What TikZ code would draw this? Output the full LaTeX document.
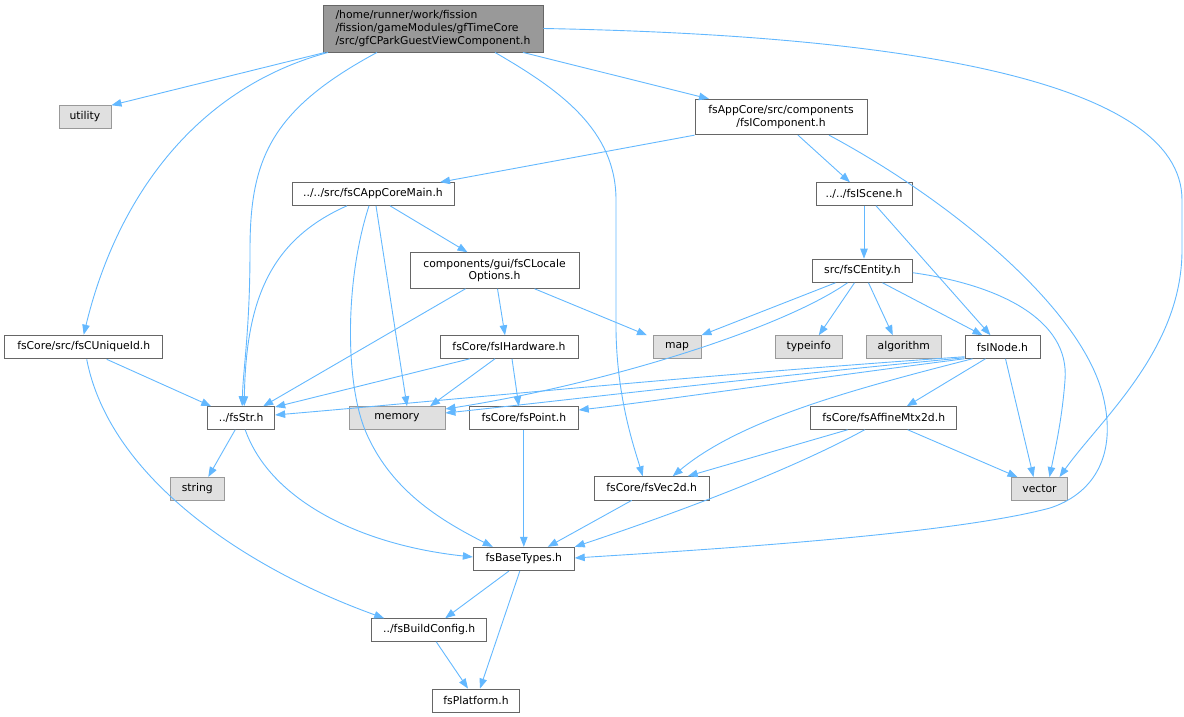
\documentclass[tikz,border=0pt]{standalone}
\usepackage{fontspec}
\setmainfont{DejaVu Sans}
\usetikzlibrary{arrows.meta}
\definecolor{edgec}{HTML}{63B8FF}
\definecolor{bordc}{HTML}{666666}
\definecolor{sysfill}{HTML}{E0E0E0}
\definecolor{sysbord}{HTML}{999999}
\definecolor{mainfill}{HTML}{999999}
\tikzset{
  box/.style={draw=bordc, fill=white, line width=0.9pt, inner sep=0pt, align=center,
    font=\fontsize{10.8}{12.8}\selectfont},
  sysbox/.style={box, draw=sysbord, fill=sysfill},
  mainbox/.style={box, fill=mainfill, align=left},
  edge/.style={draw=edgec, line width=0.9pt, -{Triangle[length=10pt,width=7.5pt]}},
}
\begin{document}
\begin{tikzpicture}[x=1pt,y=-1pt]
\useasboundingbox (0,0) rectangle (1184,717);
% nodes
\node[mainbox, minimum width=220, minimum height=47] (main) at (433,28.5) {/home/runner/work/fission\\/fission/gameModules/gfTimeCore\\/src/gfCParkGuestViewComponent.h};
\node[sysbox, minimum width=52, minimum height=22.6] (utility) at (85,117) {utility};
\node[box, minimum width=172, minimum height=35.4] (comp) at (781,117) {fsAppCore/src/components\\/fsIComponent.h};
\node[box, minimum width=162, minimum height=22.7] (appmain) at (373,194) {../../src/fsCAppCoreMain.h};
\node[box, minimum width=96, minimum height=22.6] (scene) at (864,194) {../../fsIScene.h};
\node[box, minimum width=169, minimum height=35.6] (locale) at (494.5,270.5) {components/gui/fsCLocale\\Options.h};
\node[box, minimum width=99.6, minimum height=23.3] (entity) at (862.5,270.7) {src/fsCEntity.h};
\node[box, minimum width=158, minimum height=23.7] (uniqueid) at (83.7,347) {fsCore/src/fsCUniqueId.h};
\node[box, minimum width=138, minimum height=22.6] (hardware) at (509,347) {fsCore/fsIHardware.h};
\node[sysbox, minimum width=48, minimum height=22.6] (map) at (677,347) {map};
\node[sysbox, minimum width=67, minimum height=22.6] (typeinfo) at (808.8,347) {typeinfo};
\node[sysbox, minimum width=75.7, minimum height=22.6] (algorithm) at (903.8,347) {algorithm};
\node[box, minimum width=75, minimum height=22.6] (inode) at (1002.5,347) {fsINode.h};
\node[box, minimum width=67, minimum height=22.6] (fsstr) at (241.2,418) {../fsStr.h};
\node[sysbox, minimum width=96, minimum height=22.6] (memory) at (397,418) {memory};
\node[box, minimum width=109, minimum height=22.6] (point) at (523.8,418) {fsCore/fsPoint.h};
\node[box, minimum width=146, minimum height=22.6] (affine) at (883.7,418) {fsCore/fsAffineMtx2d.h};
\node[sysbox, minimum width=53.3, minimum height=22.7] (string) at (197.3,488.7) {string};
\node[box, minimum width=114.7, minimum height=23.3] (vec2d) at (651.7,488.3) {fsCore/fsVec2d.h};
\node[sysbox, minimum width=55.6, minimum height=23] (vector) at (1039.5,489) {vector};
\node[box, minimum width=101, minimum height=23.4] (basetypes) at (523.8,559) {fsBaseTypes.h};
\node[box, minimum width=115, minimum height=22.6] (buildconfig) at (429.2,630) {../fsBuildConfig.h};
\node[box, minimum width=86.6, minimum height=23.3] (platform) at (476,700.7) {fsPlatform.h};
% edges from main
\draw[edge] ([xshift=-108]main.south) -- (utility.north east);
\draw[edge] ([xshift=-105]main.south) .. controls (190,90) and (115,205) .. (uniqueid.north);
\draw[edge] ([xshift=-56]main.south) .. controls (270,110) and (250,160) .. (250,250) .. controls (250,330) and (243,370) .. ([xshift=1]fsstr.north);
\draw[edge] ([xshift=62]main.south) .. controls (560,90) and (616,130) .. (616,200) -- (616,330) .. controls (617,400) and (635,450) .. ([xshift=-9]vec2d.north);
\draw[edge] ([xshift=90]main.south) -- ([xshift=-72]comp.north);
\draw[edge] (main.east) .. controls (900,35) and (1182,80) .. (1182,200) -- (1182,250) .. controls (1182,350) and (1100,420) .. ([xshift=20]vector.north);
% fsIComponent
\draw[edge] (comp.south west) -- ([xshift=67]appmain.north);
\draw[edge] ([xshift=17]comp.south) -- ([xshift=-14]scene.north);
\draw[edge] ([xshift=48]comp.south) .. controls (950,200) and (1085,310) .. (1104,400) .. controls (1117,460) and (1090,495) .. (1050,508) .. controls (950,535) and (700,550) .. ([yshift=1]basetypes.east);
% appmain
\draw[edge] ([xshift=-26]appmain.south) .. controls (270,240) and (246,300) .. ([xshift=3]fsstr.north);
\draw[edge] ([xshift=-4]appmain.south) .. controls (345,280) and (345,380) .. (365,430) .. controls (390,490) and (440,520) .. ([xshift=-31]basetypes.north);
\draw[edge] ([xshift=3]appmain.south) -- ([xshift=10]memory.north);
\draw[edge] ([xshift=17]appmain.south) -- ([xshift=-27]locale.north);
% scene
\draw[edge] (scene.south) -- (scene.south |- entity.north);
\draw[edge] ([xshift=12]scene.south) -- ([xshift=-12]inode.north);
% locale
\draw[edge] ([xshift=-29]locale.south) -- ([xshift=22]fsstr.north);
\draw[edge] ([xshift=3]locale.south) -- ([xshift=-4]hardware.north);
\draw[edge] ([xshift=40]locale.south) -- ([xshift=-30]map.north);
% entity
\draw[edge] ([xshift=-27]entity.south) -- (map.north east);
\draw[edge] ([xshift=-15]entity.south) .. controls (780,330) and (600,385) .. ([yshift=9]memory.east);
\draw[edge] ([xshift=-8]entity.south) -- ([xshift=10]typeinfo.north);
\draw[edge] ([xshift=6]entity.south) -- ([xshift=-11]algorithm.north);
\draw[edge] ([xshift=20]entity.south) -- ([xshift=-20]inode.north);
\draw[edge] ([yshift=-2]entity.east) .. controls (1000,285) and (1070,320) .. (1065,380) .. controls (1062,420) and (1055,450) .. ([xshift=10]vector.north);
% uniqueid
\draw[edge] ([xshift=23]uniqueid.south) -- ([xshift=-30]fsstr.north);
\draw[edge] ([xshift=3]uniqueid.south) .. controls (110,480) and (250,570) .. ([xshift=-45]buildconfig.north);
% hardware
\draw[edge] ([xshift=-39]hardware.south) -- ([yshift=11]fsstr.east);
\draw[edge] ([xshift=-14]hardware.south) -- ([xshift=33]memory.north);
\draw[edge] ([xshift=3]hardware.south) -- ([xshift=-5]point.north);
% inode
\draw[edge] ([yshift=2]inode.south west) .. controls (700,375) and (450,400) .. ([yshift=3]fsstr.east);
\draw[edge] ([yshift=1]inode.south west) .. controls (750,378) and (550,402) .. ([yshift=5]memory.east);
\draw[edge] (inode.south west) .. controls (800,380) and (650,402) .. ([yshift=8]point.east);
\draw[edge] ([xshift=-30]inode.south) .. controls (850,390) and (740,420) .. ([xshift=21]vec2d.north);
\draw[edge] ([xshift=-17]inode.south) -- ([xshift=23]affine.north);
\draw[edge] ([xshift=3]inode.south) -- ([xshift=-6]vector.north);
% fsStr
\draw[edge] ([xshift=-6]fsstr.south) -- ([xshift=11]string.north);
\draw[edge] ([xshift=4]fsstr.south) .. controls (270,500) and (360,545) .. ([yshift=2]basetypes.west);
% point, vec2d, affine
\draw[edge] (point.south) -- (basetypes.north);
\draw[edge] ([xshift=-20]vec2d.south) -- ([xshift=24]basetypes.north);
\draw[edge] ([xshift=-36]affine.south) -- ([xshift=36]vec2d.north);
\draw[edge] ([xshift=-19]affine.south) .. controls (800,465) and (700,505) .. (basetypes.north east);
\draw[edge] ([xshift=24]affine.south) -- ([xshift=-22]vector.north);
% basetypes, buildconfig
\draw[edge] ([xshift=-15]basetypes.south) -- ([xshift=16]buildconfig.north);
\draw[edge] ([xshift=-4]basetypes.south) -- ([xshift=4]platform.north);
\draw[edge] ([xshift=7]buildconfig.south) -- ([xshift=-8]platform.north);
\end{tikzpicture}
\end{document}
